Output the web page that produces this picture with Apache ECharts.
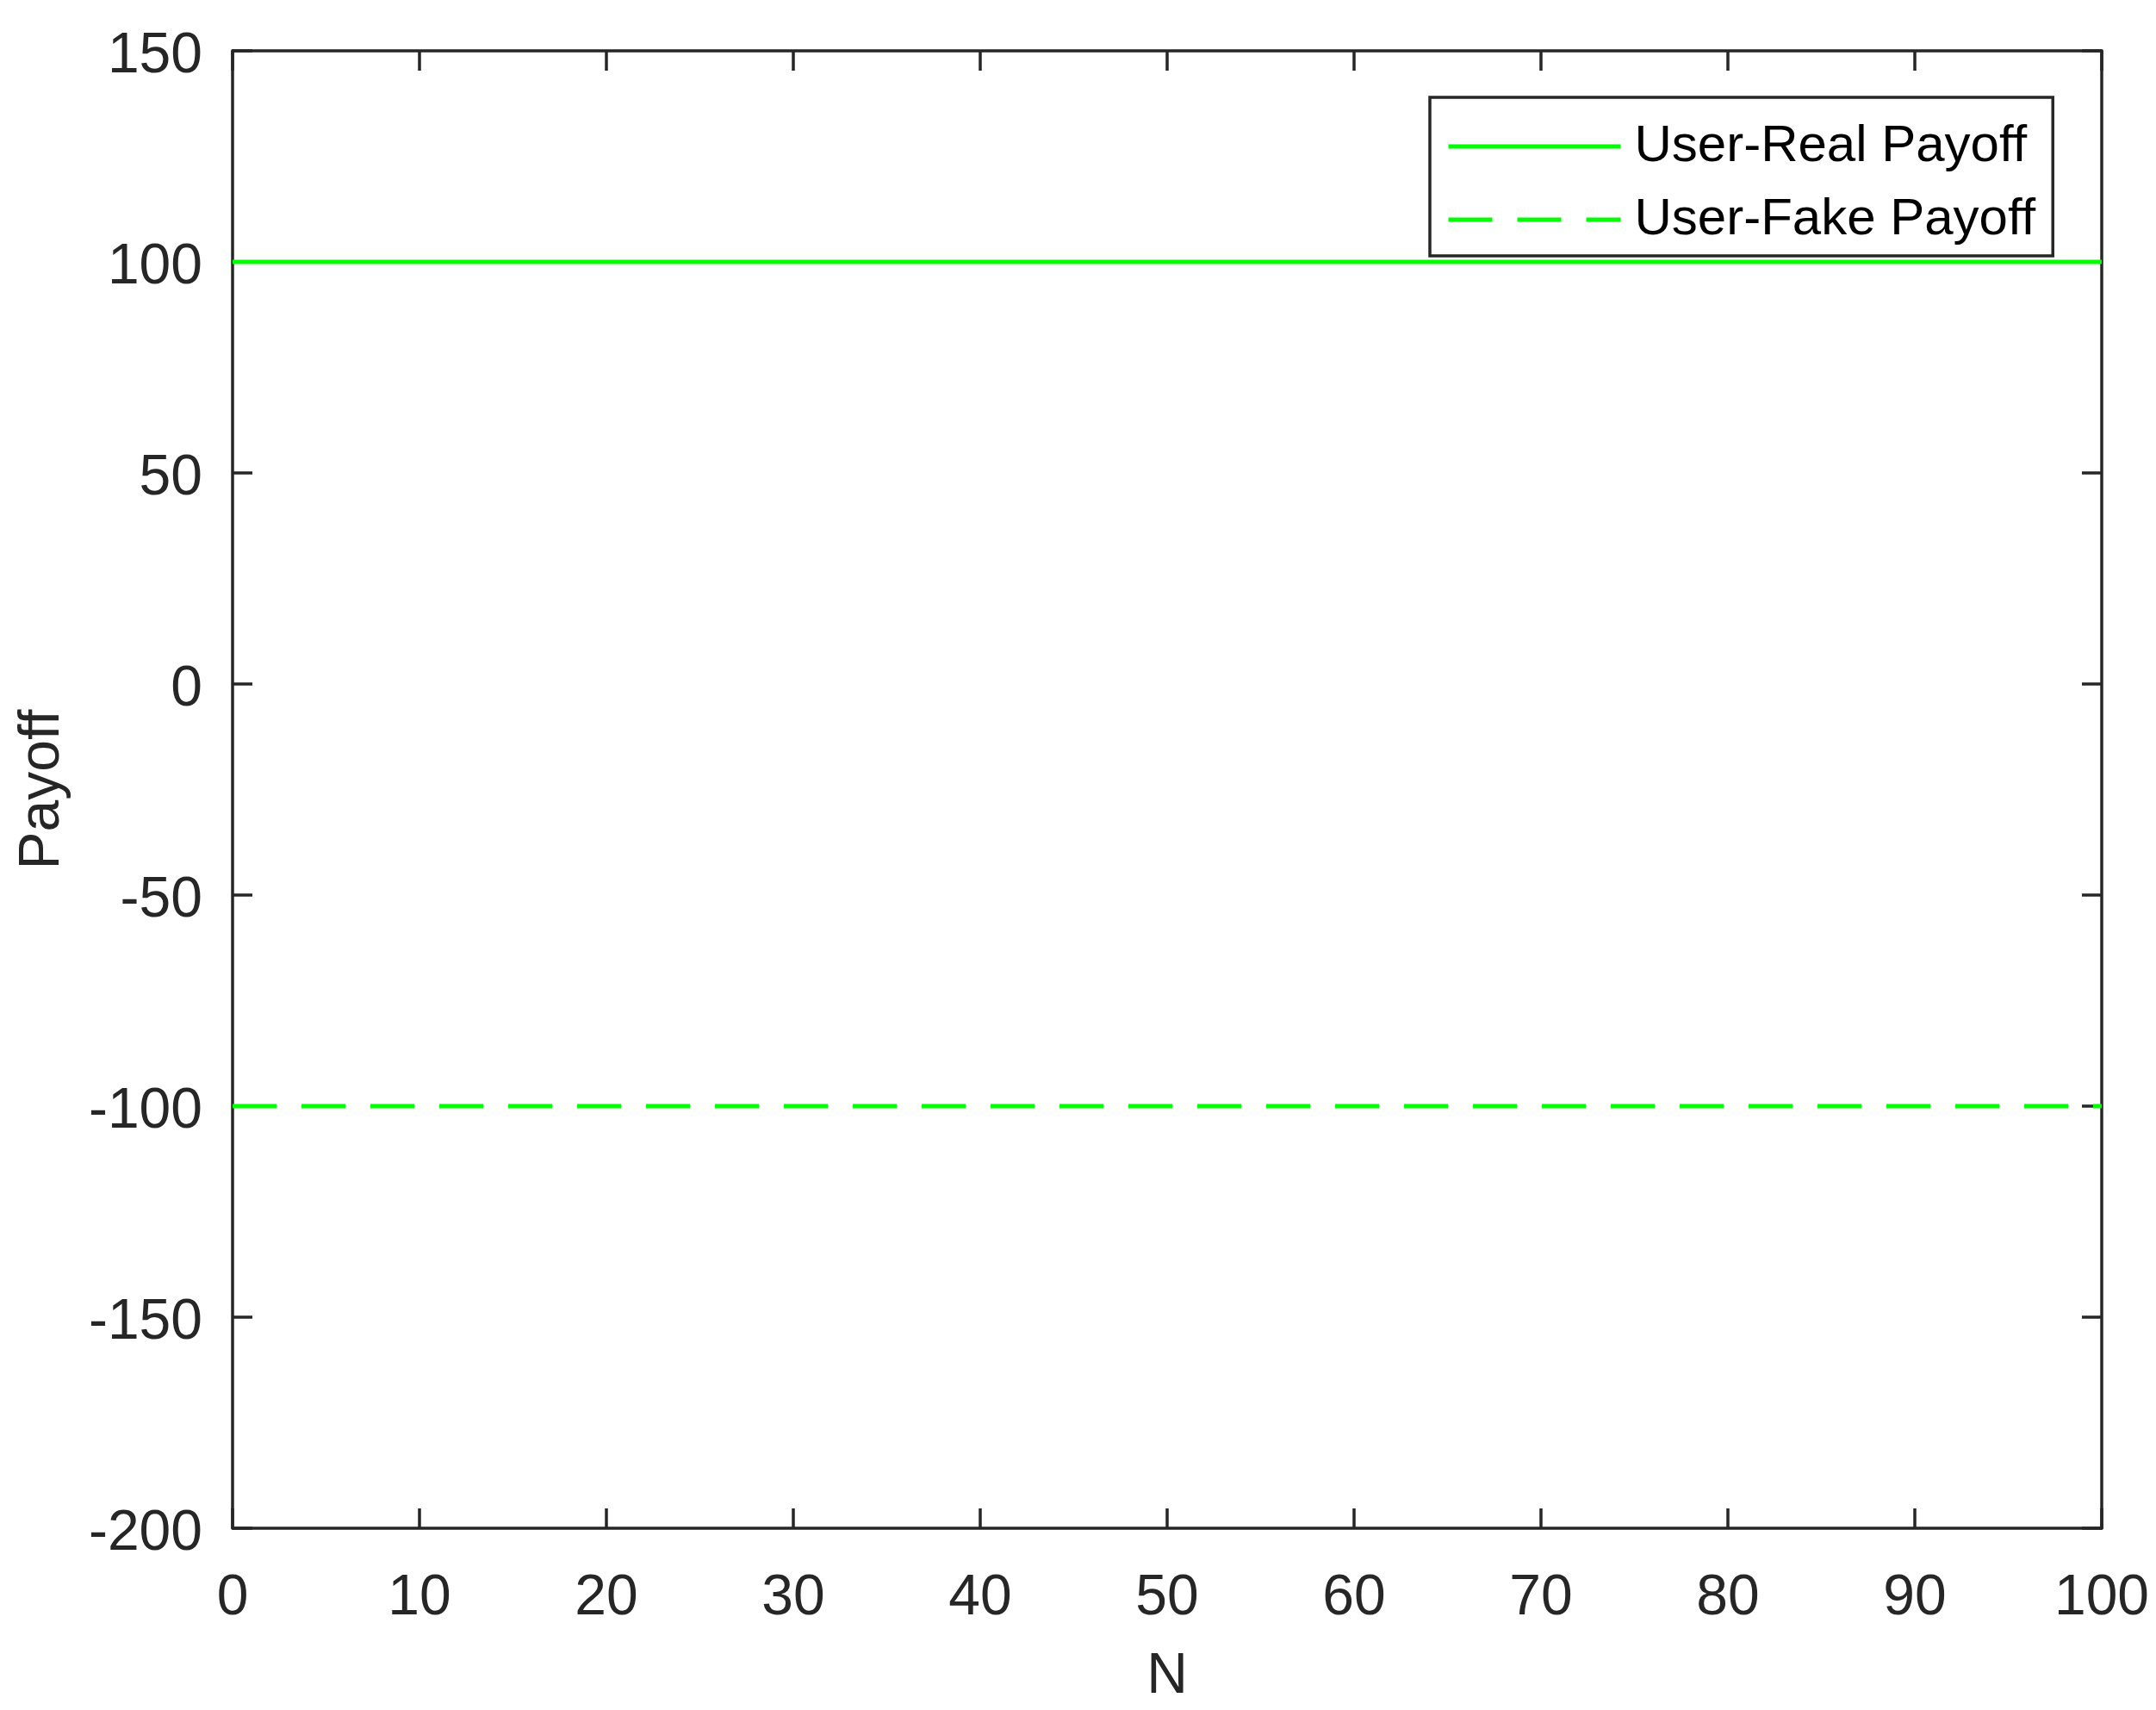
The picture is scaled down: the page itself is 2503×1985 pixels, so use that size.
<!DOCTYPE html>
<html lang="en">
<head>
    <meta charset="UTF-8">
    <title>Payoff</title>
    <script src="https://cdn.jsdelivr.net/npm/echarts@6/dist/echarts.min.js"></script>
    <style>
        html, body { margin: 0; padding: 0; background: #fff; }
        #chart { width: 2503px; height: 1985px; }
    </style>
</head>
<body>
    <div id="chart"></div>
    <script>
    // data
    var nValues = [0, 100];
    var realPayoff = [100, 100];
    var fakePayoff = [-100, -100];
    var xTicks = [0, 10, 20, 30, 40, 50, 60, 70, 80, 90, 100];
    var yTicks = [-200, -150, -100, -50, 0, 50, 100, 150];

    var axisColor = '#262626';
    var green = '#00ff00';
    var font = 'Liberation Sans, Arial, sans-serif';

    function pairs(xs, ys) {
        return xs.map(function (x, i) { return [x, ys[i]]; });
    }

    var chart = echarts.init(document.getElementById('chart'));

    // common bits for the four sides of the box
    var tickStyle = { show: true, inside: true, length: 23, lineStyle: { color: axisColor, width: 3.5 } };
    var lineStyle = { show: true, onZero: false, lineStyle: { color: axisColor, width: 3.5 } };

    chart.setOption({
        animation: false,
        backgroundColor: '#fff',
        grid: { left: 270, right: 63, top: 59, bottom: 211, containLabel: false },
        legend: {
            left: 1660,
            top: 113,
            orient: 'vertical',
            backgroundColor: '#fff',
            borderColor: axisColor,
            borderWidth: 3.5,
            borderRadius: 0,
            padding: [27, 20, 12, 19],
            itemWidth: 200,
            itemHeight: 20,
            itemGap: 25,
            itemStyle: { color: 'rgba(0,0,0,0)', borderWidth: 0 },
            lineStyle: { width: 5 },
            textStyle: { fontFamily: font, fontSize: 60, color: '#000', padding: [0, 0, 0, 11] },
            data: ['User-Real Payoff', 'User-Fake Payoff']
        },
        xAxis: [{
            type: 'value',
            min: xTicks[0],
            max: xTicks[xTicks.length - 1],
            interval: 10,
            name: 'N',
            nameLocation: 'middle',
            nameGap: 140,
            nameTextStyle: { fontFamily: font, fontSize: 66, color: axisColor },
            axisLine: lineStyle,
            axisTick: tickStyle,
            splitLine: { show: false },
            axisLabel: { fontFamily: font, fontSize: 66, color: axisColor, margin: 49 }
        }, {
            type: 'value',
            position: 'top',
            min: xTicks[0],
            max: xTicks[xTicks.length - 1],
            interval: 10,
            axisLine: lineStyle,
            axisTick: tickStyle,
            splitLine: { show: false },
            axisLabel: { show: false }
        }],
        yAxis: [{
            type: 'value',
            min: yTicks[0],
            max: yTicks[yTicks.length - 1],
            interval: 50,
            name: 'Payoff',
            nameLocation: 'middle',
            nameGap: 187,
            nameTextStyle: { fontFamily: font, fontSize: 66, color: axisColor },
            axisLine: lineStyle,
            axisTick: tickStyle,
            splitLine: { show: false },
            axisLabel: {
                margin: 35,
                formatter: '{t|{value}}',
                rich: { t: { fontFamily: font, fontSize: 66, color: axisColor, padding: [14, 0, 0, 0] } }
            }
        }, {
            type: 'value',
            position: 'right',
            min: yTicks[0],
            max: yTicks[yTicks.length - 1],
            interval: 50,
            axisLine: lineStyle,
            axisTick: tickStyle,
            splitLine: { show: false },
            axisLabel: { show: false }
        }],
        series: [{
            name: 'User-Real Payoff',
            type: 'line',
            data: pairs(nValues, realPayoff),
            symbol: 'none',
            color: green,
            lineStyle: { color: green, width: 5, type: 'solid' }
        }, {
            name: 'User-Fake Payoff',
            type: 'line',
            data: pairs(nValues, fakePayoff),
            symbol: 'none',
            color: green,
            lineStyle: { color: green, width: 5, type: [51, 29] }
        }]
    });
    </script>
</body>
</html>
